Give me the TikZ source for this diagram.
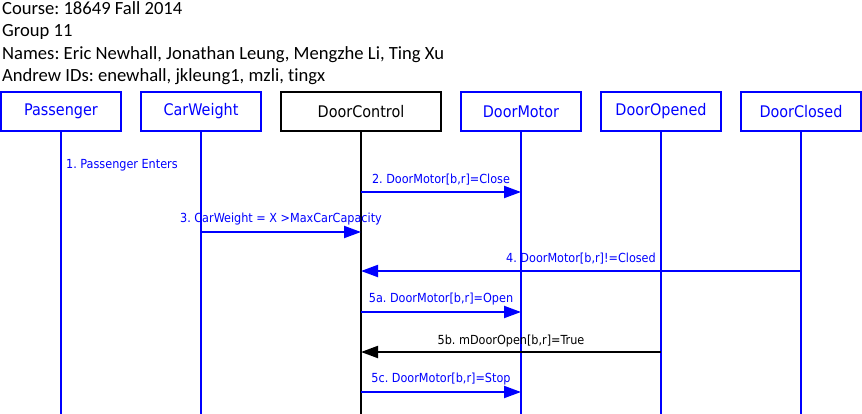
\documentclass[tikz,border=0pt]{standalone}
\usepackage{fontspec}
\setmainfont{DejaVu Sans Condensed}
\newfontfamily\hdrfont[Ligatures=NoCommon]{Carlito}
\usetikzlibrary{arrows.meta}
\definecolor{pblue}{RGB}{0,0,255}
\frenchspacing
\tikzset{
  obj/.style={draw=pblue, text=pblue, line width=2pt, minimum width=120pt, minimum height=39pt, inner sep=0pt, font=\fontsize{16pt}{18pt}\selectfont},
  ctl/.style={obj, draw=black, text=black, minimum width=160pt},
  life/.style={line width=2pt, pblue},
  msg/.style={line width=2pt, pblue, -{Triangle[length=17pt,width=12pt]}},
  msgk/.style={msg, black},
  mlab/.style={text=pblue, font=\fontsize{12.5pt}{14pt}\selectfont, inner sep=0pt},
  hdr/.style={anchor=base west, inner sep=0pt, font=\hdrfont\fontsize{18.6pt}{21pt}\selectfont}
}
\begin{document}
\begin{tikzpicture}[x=1pt,y=-1pt]
\useasboundingbox (0,0) rectangle (862,413);
% header
\node[hdr] (h1) at (2,14) {Course: 18649 Fall 2014};
\node[hdr] (h2) at (2,36.5) {Group 11};
\node[hdr] (h3) at (2,59) {Names: Eric Newhall, Jonathan Leung, Mengzhe Li, Ting Xu};
\node[hdr] (h4) at (2,81.5) {Andrew IDs: enewhall, jkleung1, mzli, tingx};
% objects
\node[obj] (pas) at (61,111.5) {Passenger};
\node[obj] (cw) at (201,111.5) {CarWeight};
\node[ctl] (dc) at (361,111.5) {DoorControl};
\node[obj] (dm) at (521,111.5) {DoorMotor};
\node[obj] (dop) at (661,111.5) {DoorOpened};
\node[obj] (dcl) at (801,111.5) {DoorClosed};
% lifeline ends
\coordinate (pasE) at (61,414);
\coordinate (cwE) at (201,414);
\coordinate (dcE) at (361,414);
\coordinate (dmE) at (521,414);
\coordinate (dopE) at (661,414);
\coordinate (dclE) at (801,414);
\draw[life] (pas.south) -- (pasE);
\draw[life] (cw.south) -- (cwE);
\draw[life, black] (dc.south) -- (dcE);
\draw[life] (dm.south) -- (dmE);
\draw[life] (dop.south) -- (dopE);
\draw[life] (dcl.south) -- (dclE);
% message points
\coordinate (a2s) at (361,192); \coordinate (a2e) at (521,192);
\coordinate (a3s) at (201,232); \coordinate (a3e) at (361,232);
\coordinate (a4s) at (801,271); \coordinate (a4e) at (361,271);
\coordinate (a5as) at (361,312); \coordinate (a5ae) at (521,312);
\coordinate (a5bs) at (661,352); \coordinate (a5be) at (361,352);
\coordinate (a5cs) at (361,392); \coordinate (a5ce) at (521,392);
% label 1
\node[mlab, anchor=west] (l1) at (66,165) {1. Passenger Enters};
% messages
\draw[msg] (a2s) -- node[mlab, above=6pt] (l2) {2. DoorMotor[b,r]=Close} (a2e);
\draw[msg] (a3s) -- node[mlab, above=6pt] (l3) {3. CarWeight = X >MaxCarCapacity} (a3e);
\draw[msg] (a4s) -- node[mlab, above=6pt] (l4) {4. DoorMotor[b,r]!=Closed} (a4e);
\draw[msg] (a5as) -- node[mlab, above=6pt] (l5a) {5a. DoorMotor[b,r]=Open} (a5ae);
\draw[msgk] (a5bs) -- node[mlab, text=black, above=4pt] (l5b) {5b. mDoorOpen[b,r]=True} (a5be);
\draw[msg] (a5cs) -- node[mlab, above=6pt] (l5c) {5c. DoorMotor[b,r]=Stop} (a5ce);
\end{tikzpicture}
\end{document}
